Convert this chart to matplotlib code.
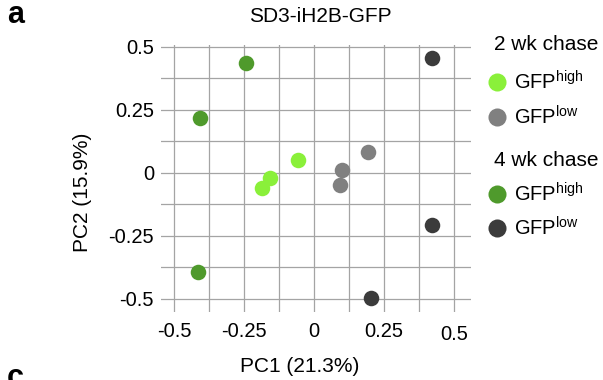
import numpy as np
import matplotlib
matplotlib.use('agg')
import matplotlib.pyplot as plt
import matplotlib.transforms as mtransforms
from matplotlib.lines import Line2D

plt.rcParams['font.family'] = ['Liberation Sans', 'DejaVu Sans']
plt.rcParams['mathtext.fontset'] = 'custom'
plt.rcParams['mathtext.rm'] = 'Liberation Sans'

# PCA scores
wk2_high_x = [-0.057, -0.156, -0.186]
wk2_high_y = [0.050, -0.020, -0.062]
wk2_low_x = [0.101, 0.094, 0.194]
wk2_low_y = [0.013, -0.050, 0.082]
wk4_high_x = [-0.241, -0.408, -0.414]
wk4_high_y = [0.437, 0.218, -0.393]
wk4_low_x = [0.423, 0.423, 0.205]
wk4_low_y = [0.456, -0.205, -0.498]

grid_ticks = np.arange(-0.5, 0.5001, 0.125)
tick_labels = {-0.5: '-0.5', -0.25: '-0.25', 0.0: '0', 0.25: '0.25', 0.5: '0.5'}

c_lg = '#8af03a'
c_gray = '#808080'
c_dg = '#4f9a2c'
c_dark = '#3b3b3b'

W, H = 603, 380
fig = plt.figure(figsize=(W / 100, H / 100), dpi=100)
ax = fig.add_axes([161 / W, 1 - 312 / H, (471 - 161) / W, (312 - 45) / H])

ax.set_xlim(-0.546, 0.561)
ax.set_ylim(-0.552, 0.507)
ax.set_xticks(grid_ticks)
ax.set_yticks(grid_ticks)
ax.set_xticklabels([tick_labels.get(round(t, 3), '') for t in grid_ticks])
ax.set_yticklabels([tick_labels.get(round(t, 3), '') for t in grid_ticks])
ax.tick_params(length=0, labelsize=14.5)
ax.tick_params(axis='x', pad=7)
ax.tick_params(axis='y', pad=5)
ax.grid(True, color='#a4a4a4', linewidth=0.9)
ax.set_axisbelow(True)
for s in ax.spines.values():
    s.set_visible(False)

# the right-most x label sits a little lower in the original
last = ax.get_xticklabels()[-1]
last.set_transform(last.get_transform() +
                   mtransforms.ScaledTranslation(0, -3 / 100, fig.dpi_scale_trans))

ms = 125
ax.scatter(wk2_high_x, wk2_high_y, s=ms, color=c_lg, linewidths=0, zorder=3)
ax.scatter(wk2_low_x, wk2_low_y, s=ms, color=c_gray, linewidths=0, zorder=3)
ax.scatter(wk4_high_x, wk4_high_y, s=ms, color=c_dg, linewidths=0, zorder=3)
ax.scatter(wk4_low_x, wk4_low_y, s=ms, color=c_dark, linewidths=0, zorder=3)

ax.set_xlabel('PC1 (21.3%)', fontsize=15, va='center')
ax.xaxis.set_label_coords((300 - 161) / 310, (312 - 367) / 267)
ax.set_ylabel('PC2 (15.9%)', fontsize=15, va='center')
ax.yaxis.set_label_coords((82 - 161) / 310, (312 - 192) / 267)
fig.text(320 / W, 1 - 17 / H, 'SD3-iH2B-GFP', fontsize=15, ha='center', va='center')

# panel letters
fig.text(7 / W, 1 - 15 / H, 'a', fontsize=22, fontweight='bold', ha='left', va='center')
fig.text(7 / W, 1 - 378 / H, 'c', fontsize=22, fontweight='bold', ha='left', va='center')

# legend drawn by hand
def leg_item(y, color, sup):
    fig.add_artist(Line2D([497 / W], [1 - y / H], marker='o', markersize=13,
                          color=color, markeredgewidth=0, transform=fig.transFigure))
    fig.text(514 / W, 1 - y / H, r'GFP$^{\mathrm{%s}}$' % sup, fontsize=14.5,
             ha='left', va='center')

fig.text(494 / W, 1 - 45 / H, '2 wk chase', fontsize=15, ha='left', va='center')
leg_item(82, c_lg, 'high')
leg_item(117, c_gray, 'low')
fig.text(494 / W, 1 - 160 / H, '4 wk chase', fontsize=15, ha='left', va='center')
leg_item(194, c_dg, 'high')
leg_item(228, c_dark, 'low')

fig.savefig('out.png', dpi=100)
